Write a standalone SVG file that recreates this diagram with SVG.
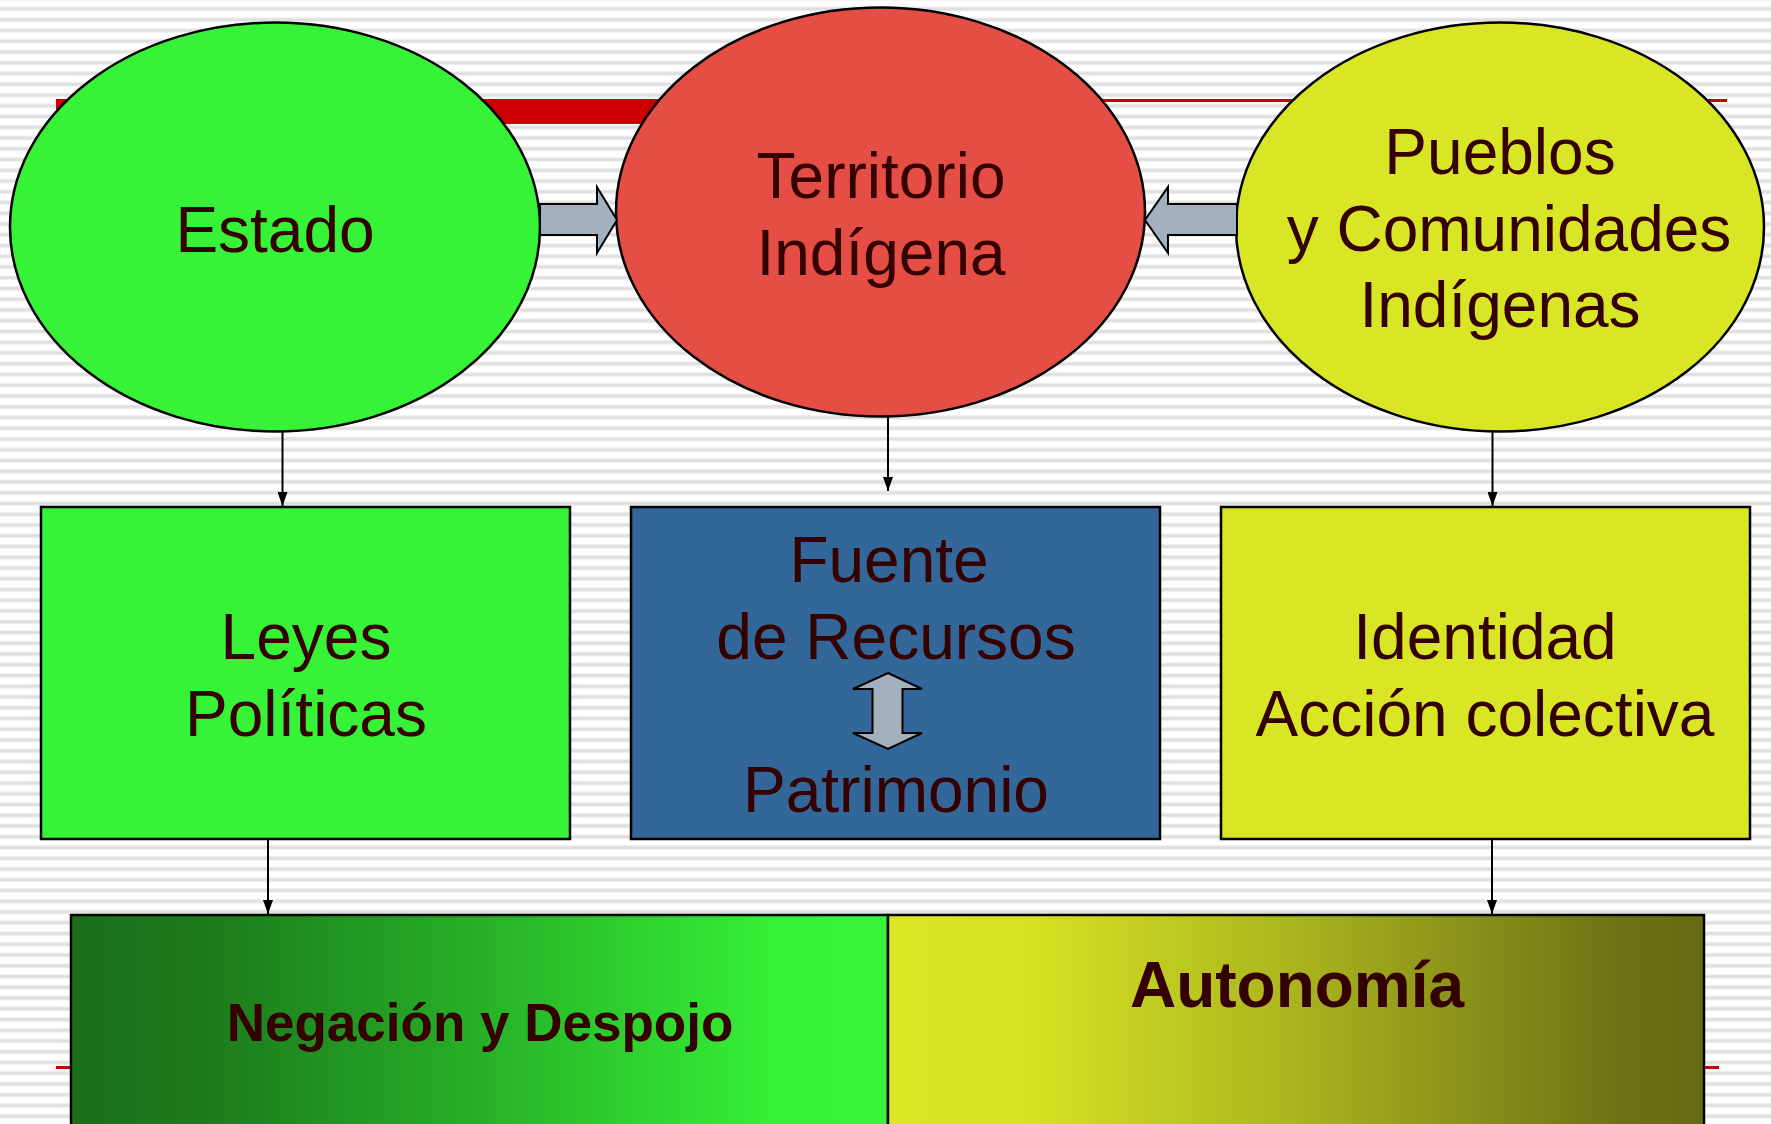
<svg xmlns="http://www.w3.org/2000/svg" width="1771" height="1124" viewBox="0 0 1771 1124">
  <defs>
    <pattern id="stripes" patternUnits="userSpaceOnUse" x="0" y="3.6" width="20" height="10.75">
      <rect x="0" y="0" width="20" height="10.75" fill="#ffffff"/>
      <rect x="0" y="3.2" width="20" height="4.4" fill="#ececec"/>
      <rect x="0" y="4.3" width="20" height="2.2" fill="#dedede"/>
    </pattern>
    <linearGradient id="gradGreen" x1="0" y1="0" x2="1" y2="0">
      <stop offset="0" stop-color="#1a6f1a"/>
      <stop offset="0.16" stop-color="#1c7a1c"/>
      <stop offset="0.5" stop-color="#27b027"/>
      <stop offset="0.86" stop-color="#36f036"/>
      <stop offset="1" stop-color="#38f438"/>
    </linearGradient>
    <linearGradient id="gradYellow" x1="0" y1="0" x2="1" y2="0">
      <stop offset="0" stop-color="#d9e626"/>
      <stop offset="0.17" stop-color="#d6e224"/>
      <stop offset="0.5" stop-color="#aab41e"/>
      <stop offset="0.9" stop-color="#6b7214"/>
      <stop offset="1" stop-color="#656b13"/>
    </linearGradient>
    <marker id="arrowHead" markerWidth="14" markerHeight="10" refX="14" refY="5" orient="auto" markerUnits="userSpaceOnUse" viewBox="0 0 14 10">
      <path d="M0,0 L14,5 L0,10 Z" fill="#000000"/>
    </marker>
    <style>
      .lbl { font-family: "Liberation Sans", Arial, sans-serif; font-size: 64px; fill: #350000; text-anchor: middle; }
      .bold { font-weight: bold; }
      .ell { stroke: #000000; stroke-width: 2.5; }
      .box { stroke: #000000; stroke-width: 2.5; }
      .conn { stroke: #000000; stroke-width: 2; fill: none; }
      .block { fill: #a3b1bf; stroke: #000000; stroke-width: 2; stroke-linejoin: miter; }
    </style>
  </defs>

  <rect x="0" y="0" width="1771" height="1124" fill="url(#stripes)"/>

  <g id="decor">
    <rect x="56" y="99" width="650" height="25" fill="#cc0000"/>
    <rect x="700" y="99" width="1027" height="3" fill="#cc0000"/>
    <rect x="56" y="1066" width="1663" height="3" fill="#cc0000"/>
  </g>

  <g id="estado">
    <ellipse class="ell" cx="275" cy="227" rx="265" ry="204.5" fill="#37f337"/>
    <text class="lbl" x="275" y="252">Estado</text>
  </g>

  <g id="territorio">
    <ellipse class="ell" cx="880.5" cy="212" rx="264.5" ry="204.5" fill="#e44e44"/>
    <text class="lbl" x="881" y="198">Territorio</text>
    <text class="lbl" x="881" y="275">Indígena</text>
  </g>

  <g id="pueblos">
    <ellipse class="ell" cx="1500" cy="227" rx="264" ry="204.5" fill="#d9e626"/>
    <text class="lbl" x="1500" y="174">Pueblos</text>
    <text class="lbl" x="1509" y="251">y Comunidades</text>
    <text class="lbl" x="1500" y="327">Indígenas</text>
  </g>

  <g id="leyes">
    <rect class="box" x="41" y="507" width="529" height="332" fill="#37f337"/>
    <text class="lbl" x="306" y="659">Leyes</text>
    <text class="lbl" x="306" y="736">Políticas</text>
  </g>

  <g id="fuente">
    <rect class="box" x="631" y="507" width="529" height="332" fill="#336699"/>
    <text class="lbl" x="889" y="582">Fuente</text>
    <text class="lbl" x="896" y="659">de Recursos</text>
    <polygon class="block" points="888,673 922,689 902.5,689 902.5,733 922,733 888,749 853,733 872.5,733 872.5,689 853,689"/>
    <text class="lbl" x="896" y="812">Patrimonio</text>
  </g>

  <g id="identidad">
    <rect class="box" x="1221" y="507" width="529" height="332" fill="#d9e626"/>
    <text class="lbl" x="1485" y="659">Identidad</text>
    <text class="lbl" x="1485" y="736">Acción colectiva</text>
  </g>

  <g id="negacion">
    <rect class="box" x="71" y="915" width="817" height="220" fill="url(#gradGreen)"/>
    <text class="lbl bold" x="480" y="1041" style="font-size:53px">Negación y Despojo</text>
  </g>

  <g id="autonomia">
    <rect class="box" x="888" y="915" width="816" height="220" fill="url(#gradYellow)"/>
    <text class="lbl bold" x="1297" y="1007">Autonomía</text>
  </g>

  <g id="connectors">
    <polygon class="block" points="540,204 597,204 597,187 617,220 597,253 597,235 540,235"/>
    <polygon class="block" points="1237,204 1168,204 1168,187 1145,220 1168,253 1168,235 1237,235"/>
    <line class="conn" x1="282.5" y1="431" x2="282.5" y2="506" marker-end="url(#arrowHead)"/>
    <line class="conn" x1="888" y1="417" x2="888" y2="491" marker-end="url(#arrowHead)"/>
    <line class="conn" x1="1492.5" y1="431" x2="1492.5" y2="506" marker-end="url(#arrowHead)"/>
    <line class="conn" x1="268" y1="840" x2="268" y2="914" marker-end="url(#arrowHead)"/>
    <line class="conn" x1="1492" y1="840" x2="1492" y2="914" marker-end="url(#arrowHead)"/>
  </g>
</svg>
